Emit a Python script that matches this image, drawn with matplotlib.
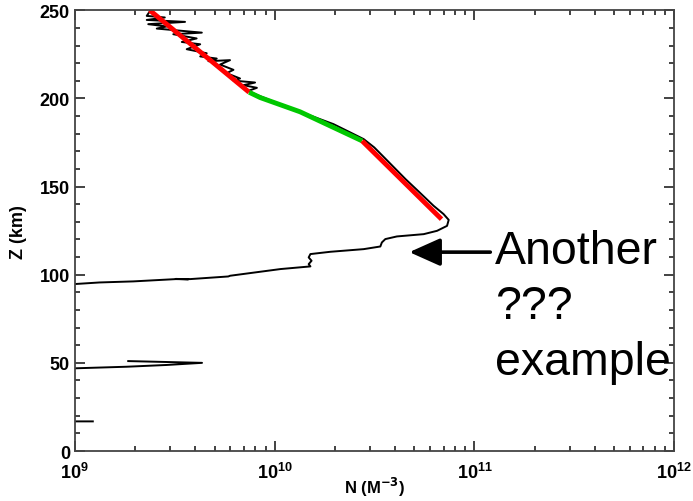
import numpy as np
import matplotlib
matplotlib.use("Agg")
import matplotlib.pyplot as plt

plt.rcParams["font.family"] = ["Liberation Sans", "DejaVu Sans"]
plt.rcParams["font.weight"] = "bold"

# measured density profile: altitude (km) and density (m^-3), NaN = gap
profile_z = [
    249.6, 246.8, 245.9, 244.5, 243.4, 242.1, 240.8, 239.6, 237.3, 236.4,
    234.0, 232.0, 230.7, 227.9, 225.6, 223.8, 222.6, 221.1, 221.7, 219.2,
    216.2, 214.3, 211.3, 210.1, 209.0, 207.5, 206.0, 204.3, 202.4,
    200.5, 195.8, 191.0, 185.4, 180.7, 176.9, 172.2, 167.4, 161.7, 154.2,
    146.7, 139.1, 134.4, 131.1, 127.7, 124.9, 123.0, 121.7, 120.2, 118.3,
    116.0, 114.5, 113.0, 111.7, 109.8, 107.9, 106.0, 104.7, 103.2, 99.4,
    99.0, 97.5, 97.6, 97.4, 97.5, 96.2, 95.6, 94.7, 94.2,
    np.nan,
    51.0, 50.0, 48.8, 47.8, 46.9, 46.5,
    np.nan,
    16.8, 16.8,
]
profile_n = [
    2.38e9, 2.29e9, 2.82e9, 2.29e9, 3.56e9, 2.33e9, 2.88e9, 2.57e9, 4.32e9, 3.11e9,
    4.07e9, 3.43e9, 4.24e9, 3.63e9, 4.57e9, 4.24e9, 5.13e9, 4.66e9, 5.98e9, 5.33e9,
    6.22e9, 5.75e9, 6.71e9, 6.22e9, 7.98e9, 6.98e9, 8.15e9, 7.40e9, 7.98e9,
    8.79e9, 1.11e10, 1.45e10, 1.97e10, 2.39e10, 2.79e10, 3.15e10, 3.47e10, 3.89e10, 4.52e10,
    5.31e10, 6.24e10, 7.00e10, 7.43e10, 7.29e10, 6.50e10, 5.57e10, 4.09e10, 3.58e10, 3.44e10,
    3.38e10, 2.79e10, 1.90e10, 1.51e10, 1.48e10, 1.53e10, 1.48e10, 1.51e10, 1.07e10, 5.98e9,
    5.86e9, 3.77e9, 3.20e9, 3.70e9, 3.20e9, 1.96e9, 1.33e9, 1.00e9, 6.0e8,
    np.nan,
    1.85e9, 4.33e9, 2.88e9, 1.82e9, 1.0e9, 6.0e8,
    np.nan,
    6.0e8, 1.23e9,
]

# fitted segments
fit1_z = [250.0, 203.5]
fit1_n = [2.37e9, 7.45e9]
fit2_z = [203.5, 200.5, 192.4, 175.9]
fit2_n = [7.45e9, 8.45e9, 1.34e10, 2.74e10]
fit3_z = [175.9, 131.5]
fit3_n = [2.74e10, 6.84e10]

fig = plt.figure(figsize=(6.93, 5.02), dpi=100)
ax = fig.add_axes([0.108, 0.0996, 0.865, 0.878])

ax.plot(profile_n, profile_z, color="black", lw=1.4)
ax.plot(fit1_n, fit1_z, color="#ff0000", lw=3.5, solid_capstyle="butt")
ax.plot(fit2_n, fit2_z, color="#00c800", lw=3.5, solid_capstyle="butt")
ax.plot(fit3_n, fit3_z, color="#ff0000", lw=3.5, solid_capstyle="butt")

ax.set_xscale("log")
ax.set_xlim(1e9, 1e12)
ax.set_ylim(0, 250)
ax.set_yticks([0, 50, 100, 150, 200, 250])
ax.set_yticks(np.arange(0, 251, 10), minor=True)

ax.tick_params(which="both", direction="in", top=True, right=True,
               width=1.2, labelsize=13, color="#222222")
ax.tick_params(which="major", length=7)
ax.tick_params(which="minor", length=3.5)
ax.tick_params(axis="x", which="major", pad=8)
for s in ax.spines.values():
    s.set_linewidth(1.3)
    s.set_color("#444444")

fig.text(0.54, 0.016, "N (M$^{-3}$)", fontsize=12, fontweight="bold",
         ha="center", va="baseline")
ax.set_ylabel("Z (km)", fontsize=13, fontweight="bold", labelpad=9)

ax.annotate("", xy=(4.72e10, 112.8), xytext=(1.2e11, 112.8),
            arrowprops=dict(arrowstyle="-|>,head_length=1.9,head_width=0.85",
                            mutation_scale=10, lw=2.6, color="black",
                            shrinkA=0, shrinkB=0))
ax.text(1.27e11, 43.7, "Another\n???\nexample", fontsize=33.5,
        fontweight="normal", ha="left", va="baseline", clip_on=False,
        linespacing=1.34)

fig.savefig("out.png", dpi=100)
